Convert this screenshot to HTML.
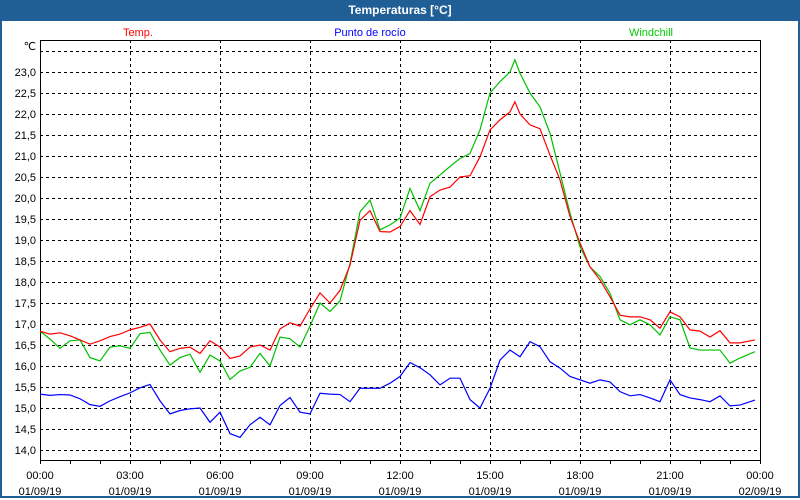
<!DOCTYPE html>
<html><head><meta charset="utf-8"><style>
body{margin:0;width:800px;height:500px;overflow:hidden;background:#fff;font-family:"Liberation Sans","DejaVu Sans",sans-serif}
#frame{position:absolute;left:0;top:0;width:796px;height:496px;border:2px solid #1f5f96;border-top:none}
#title{position:absolute;left:0;top:0;width:800px;height:21px;background:#1f5f96;color:#fff;font-weight:bold;font-size:12px;text-align:center;line-height:21px}
</style></head><body>
<div id="frame"></div>
<div id="title">Temperaturas [°C]</div>
<svg id="chart" width="800" height="500" style="position:absolute;left:0;top:0"></svg>
<script>
const times=[0,1/3,2/3,1,4/3,5/3,2,7/3,8/3,3,10/3,11/3,4,13/3,14/3,5,16/3,17/3,6,19/3,20/3,7,22/3,23/3,8,25/3,26/3,9,28/3,29/3,10,31/3,32/3,11,34/3,35/3,12,37/3,38/3,13,40/3,41/3,14,43/3,44/3,15,46/3,47/3,15.83,16,49/3,50/3,17,52/3,53/3,18,55/3,56/3,19,58/3,59/3,20,61/3,62/3,21,64/3,65/3,22,67/3,68/3,23,70/3,23.83];
const temp=[16.83,16.76,16.79,16.72,16.62,16.52,16.6,16.7,16.76,16.86,16.92,17.0,16.62,16.34,16.42,16.45,16.3,16.6,16.45,16.18,16.24,16.45,16.5,16.38,16.88,17.03,16.95,17.36,17.74,17.5,17.8,18.4,19.47,19.7,19.2,19.19,19.32,19.7,19.37,20.03,20.19,20.26,20.5,20.53,20.98,21.62,21.86,22.05,22.29,22.0,21.74,21.65,21.02,20.43,19.56,18.93,18.36,18.05,17.65,17.21,17.17,17.17,17.1,16.9,17.29,17.17,16.86,16.83,16.69,16.84,16.55,16.55,16.62,16.69];
const dew=[15.33,15.3,15.32,15.31,15.22,15.08,15.04,15.17,15.27,15.36,15.48,15.56,15.17,14.86,14.94,14.98,15.0,14.66,14.9,14.39,14.3,14.6,14.78,14.6,15.06,15.25,14.9,14.86,15.35,15.33,15.32,15.15,15.47,15.47,15.47,15.59,15.75,16.08,15.96,15.79,15.55,15.71,15.71,15.2,15.0,15.47,16.14,16.38,16.3,16.22,16.58,16.46,16.1,15.95,15.75,15.67,15.59,15.67,15.62,15.39,15.29,15.32,15.24,15.15,15.67,15.32,15.24,15.2,15.15,15.29,15.05,15.07,15.19,15.25];
const wind=[16.83,16.64,16.42,16.6,16.62,16.2,16.12,16.45,16.48,16.42,16.77,16.8,16.38,16.02,16.2,16.28,15.85,16.26,16.12,15.68,15.88,15.97,16.3,16.0,16.69,16.65,16.45,16.95,17.5,17.3,17.55,18.44,19.67,19.95,19.24,19.36,19.52,20.23,19.7,20.35,20.55,20.75,20.94,21.06,21.62,22.5,22.77,23.0,23.29,22.97,22.5,22.17,21.54,20.6,19.64,18.84,18.36,18.13,17.73,17.1,16.98,17.1,16.98,16.74,17.17,17.1,16.43,16.38,16.38,16.38,16.07,16.19,16.34,16.3];
const yTicks=["14,0","14,5","15,0","15,5","16,0","16,5","17,0","17,5","18,0","18,5","19,0","19,5","20,0","20,5","21,0","21,5","22,0","22,5","23,0"];
const xTimes=["00:00","03:00","06:00","09:00","12:00","15:00","18:00","21:00","00:00"];
const xDates=["01/09/19","01/09/19","01/09/19","01/09/19","01/09/19","01/09/19","01/09/19","01/09/19","02/09/19"];
const L=40,R=760,T=40,B=460;
const xs=h=>L+h*30;
const ys=v=>450-(v-14)*42;
const svg=document.getElementById('chart');
const NS='http://www.w3.org/2000/svg';
function mk(tag,attrs,parent){const e=document.createElementNS(NS,tag);for(const k in attrs)e.setAttribute(k,attrs[k]);(parent||svg).appendChild(e);return e;}
// horizontal grid
for(let i=0;i<=19;i++){const v=14+i*0.5;const y=ys(v)+0.5;
const g=mk('line',{x1:L,x2:R,y1:y,y2:y,stroke:'#000','stroke-dasharray':'3,3'});


if(i<yTicks.length){const t=mk('text',{x:36,y:ys(v)+4,'text-anchor':'end','font-size':'11'});t.textContent=yTicks[i];

}}
const u=mk('text',{x:36,y:50,'text-anchor':'end','font-size':'11'});u.textContent='℃';


for(let i=0;i<xTimes.length;i++){const x=xs(i*3)+0.5;
if(i>0&&i<8){const g=mk('line',{x1:x,x2:x,y1:T,y2:B,stroke:'#000','stroke-dasharray':'3,3'});

}
const t1=mk('text',{x:xs(i*3),y:479,'text-anchor':'middle','font-size':'11'});t1.textContent=xTimes[i];


const t2=mk('text',{x:xs(i*3),y:495,'text-anchor':'middle','font-size':'11'});t2.textContent=xDates[i];

}
for(let h=0;h<=24;h++){const x=xs(h)+0.5;const tk=mk('line',{x1:x,x2:x,y1:B,y2:B+4,stroke:'#000'});

}
const fr=mk('rect',{x:L+0.5,y:T+0.5,width:R-L,height:B-T,fill:'none',stroke:'#000'});


function series(vals,color,name){const p=mk('polyline',{points:vals.map((v,i)=>xs(times[i])+','+ys(v)).join(' '),fill:'none',stroke:color,'stroke-width':'1.2'});

}
series(dew,'#0000ff','dewpoint-line');
series(wind,'#00c000','windchill-line');
series(temp,'#ff0000','temp-line');
const legend=[["Temp.","#ff0000",138],["Punto de rocío","#0000ff",370],["Windchill","#00cc00",651]];
for(const [n,c,x] of legend){const t=mk('text',{x:x,y:36,'text-anchor':'middle','font-size':'11',fill:c});t.textContent=n;

}
</script>
</body></html>
